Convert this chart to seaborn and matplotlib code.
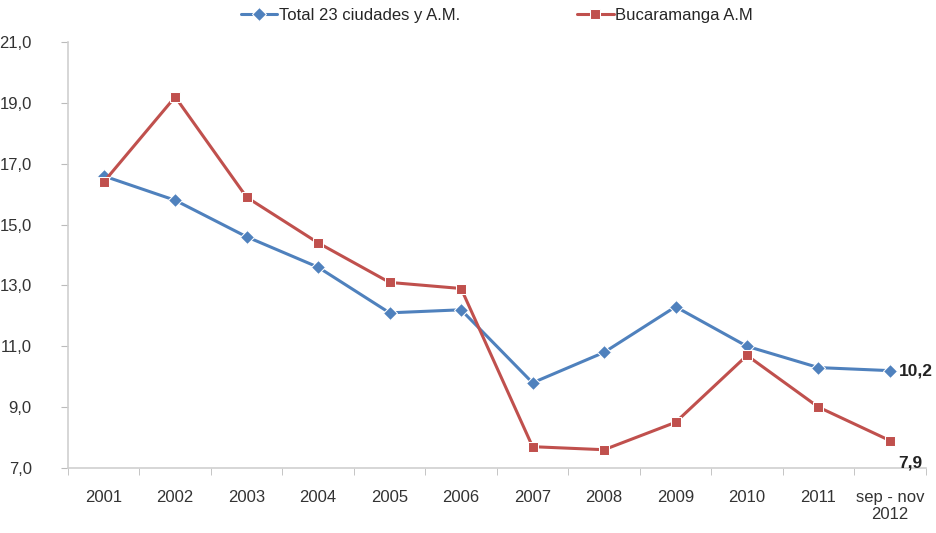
import matplotlib
matplotlib.use("Agg")
import matplotlib.pyplot as plt
import seaborn as sns
import pandas as pd
import numpy as np
from matplotlib.ticker import FixedLocator, FuncFormatter

categories = ["2001", "2002", "2003", "2004", "2005", "2006", "2007", "2008",
              "2009", "2010", "2011", "sep - nov\n2012"]
total = [16.6, 15.8, 14.6, 13.6, 12.1, 12.2, 9.8, 10.8, 12.3, 11.0, 10.3, 10.2]
bucaramanga = [16.4, 19.2, 15.9, 14.4, 13.1, 12.9, 7.7, 7.6, 8.5, 10.7, 9.0, 7.9]
series_names = ["Total 23 ciudades y A.M.", "Bucaramanga A.M"]

sns.set_style("white")
fam = ["Liberation Sans Narrow", "Liberation Sans", "DejaVu Sans"]
plt.rcParams["font.family"] = fam

df = pd.DataFrame({
    "idx": list(range(len(categories))) * 2,
    "value": total + bucaramanga,
    "serie": [series_names[0]] * len(categories) + [series_names[1]] * len(categories),
})

fig = plt.figure(figsize=(9.36, 5.33), dpi=100)
ax = fig.add_axes([0.0726, 0.122, 0.9164, 0.799])
blue = "#4F81BD"
red = "#C0504D"
sns.lineplot(data=df, x="idx", y="value", hue="serie", style="serie",
             palette=[blue, red], markers=["D", "s"], dashes=False,
             linewidth=2.2, markersize=7.5, ax=ax, legend=True)

ax.set_xlim(-0.5, len(categories) - 0.5)
ax.set_ylim(7, 21)
ax.set_yticks(np.arange(7, 21.1, 2))
ax.yaxis.set_major_formatter(FuncFormatter(lambda v, p: f"{v:.1f}".replace(".", ",")))
ax.set_xticks(range(len(categories)))
ax.set_xticklabels(categories)
ax.xaxis.set_minor_locator(FixedLocator(np.arange(-0.5, len(categories), 1)))
ax.set_xlabel("")
ax.set_ylabel("")

for s in ["top", "right"]:
    ax.spines[s].set_visible(False)
for s in ["left", "bottom"]:
    ax.spines[s].set_color("#D0D0D0")
    ax.spines[s].set_linewidth(1.2)

ax.tick_params(axis="y", which="major", left=True, length=5, color="#BBBBBB",
               labelsize=12, labelcolor="#333333", pad=21)
ax.tick_params(axis="x", which="major", bottom=False, labelsize=12,
               labelcolor="#333333", pad=12)
ax.tick_params(axis="x", which="minor", bottom=True, length=5, color="#BBBBBB")

ax.text(len(categories) - 1 + 0.12, total[-1], f"{total[-1]:.1f}".replace(".", ","),
        fontsize=12.5, fontweight="bold", va="center", ha="left", color="#222222")
ax.text(len(categories) - 1 + 0.12, bucaramanga[-1] - 0.75,
        f"{bucaramanga[-1]:.1f}".replace(".", ","),
        fontsize=12.5, fontweight="bold", va="center", ha="left", color="#222222")

handles, labels = ax.get_legend_handles_labels()
ax.legend(handles, labels, loc="upper center", bbox_to_anchor=(0.5, 1.115),
          ncol=2, frameon=False, fontsize=12, columnspacing=7, handlelength=2.2,
          handletextpad=0.1)

fig.savefig("out.png", dpi=100)
